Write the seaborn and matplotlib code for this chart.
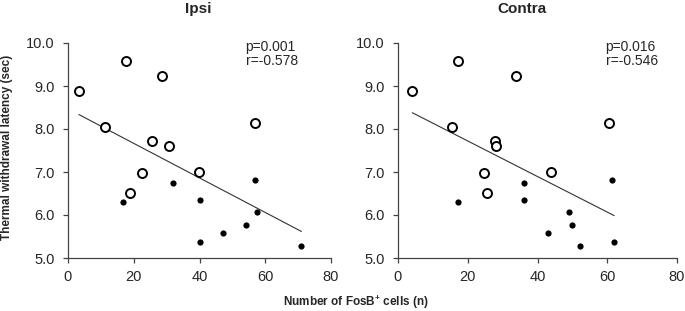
import numpy as np
import pandas as pd
import seaborn as sns
import matplotlib.pyplot as plt

sns.set_style("ticks")
plt.rcParams['font.family'] = ['Liberation Sans', 'DejaVu Sans']
plt.rcParams['mathtext.fontset'] = 'custom'
plt.rcParams['mathtext.rm'] = 'Liberation Sans'
plt.rcParams['mathtext.bf'] = 'Liberation Sans:bold'

# latency (sec), same animals in both panels
open_latency = [8.88, 9.58, 9.24, 8.04, 8.14, 7.72, 7.61, 6.98, 6.51, 7.01]
filled_latency = [6.31, 6.74, 6.34, 5.37, 5.57, 5.77, 6.81, 6.08, 5.27]

# FosB+ cell counts
ipsi_open_x = [3.3, 17.6, 28.7, 11.2, 56.8, 25.7, 30.6, 22.6, 19.0, 39.8]
ipsi_filled_x = [16.6, 31.9, 40.0, 40.0, 47.2, 54.2, 57.0, 57.6, 71.0]
contra_open_x = [4.1, 17.2, 33.7, 15.5, 60.6, 27.9, 28.2, 24.8, 25.4, 43.9]
contra_filled_x = [17.3, 36.0, 36.0, 62.0, 43.0, 50.0, 61.3, 48.9, 52.3]

titles = ["Ipsi", "Contra"]
stats = ["p=0.001\nr=-0.578", "p=0.016\nr=-0.546"]

fig = plt.figure(figsize=(6.85, 3.11), dpi=100)
ax1 = fig.add_axes([68/685, 1-258/311, 263/685, 215/311])
ax2 = fig.add_axes([398/685, 1-258/311, 279/685, 215/311])

panels = [(ax1, ipsi_open_x, ipsi_filled_x, 0.494, 54.0),
          (ax2, contra_open_x, contra_filled_x, 0.444, 59.5)]

for i, (ax, ox, fx, tx, sx) in enumerate(panels):
    d_open = pd.DataFrame({"cells": ox, "lat": open_latency})
    d_fill = pd.DataFrame({"cells": fx, "lat": filled_latency})
    d_all = pd.concat([d_open, d_fill])
    sns.regplot(data=d_all, x="cells", y="lat", ax=ax, scatter=False, ci=None,
                line_kws={"color": "#333333", "lw": 0.8})
    sns.scatterplot(data=d_open, x="cells", y="lat", ax=ax, s=42,
                    facecolor="white", edgecolor="black", linewidth=1.4, zorder=3)
    sns.scatterplot(data=d_fill, x="cells", y="lat", ax=ax, s=20,
                    color="black", edgecolor="black", linewidth=0, zorder=3)
    ax.set_xlim(0, 80)
    ax.set_ylim(5, 10)
    ax.set_xticks([0, 20, 40, 60, 80])
    ax.set_yticks([5, 6, 7, 8, 9, 10])
    ax.set_yticklabels(["%.1f" % v for v in [5, 6, 7, 8, 9, 10]])
    ax.tick_params(labelsize=10.5, length=3.5, width=0.9, color="#444444")
    ax.tick_params(axis="y", pad=6)
    ax.tick_params(axis="x", pad=5)
    for s in ["left", "bottom"]:
        ax.spines[s].set_color("#444444")
        ax.spines[s].set_linewidth(0.9)
    sns.despine(ax=ax)
    ax.set_xlabel("")
    ax.set_ylabel("")
    ax.set_title(titles[i], fontsize=11, fontweight="bold", x=tx, pad=21.5)
    ax.text(sx, 10.08, stats[i], fontsize=10, ha="left", va="top", linespacing=1.0)

fig.text(356/685, 1-306/311, r"Number of FosB$^{\mathbf{+}}$ cells (n)",
         fontsize=8.5, fontweight="bold", ha="center", va="baseline")
fig.text(7/685, 1-147/311, "Thermal withdrawal latency (sec)", fontsize=8.5,
         fontweight="bold", rotation=90, ha="center", va="center")

fig.savefig("out.png", dpi=100)
